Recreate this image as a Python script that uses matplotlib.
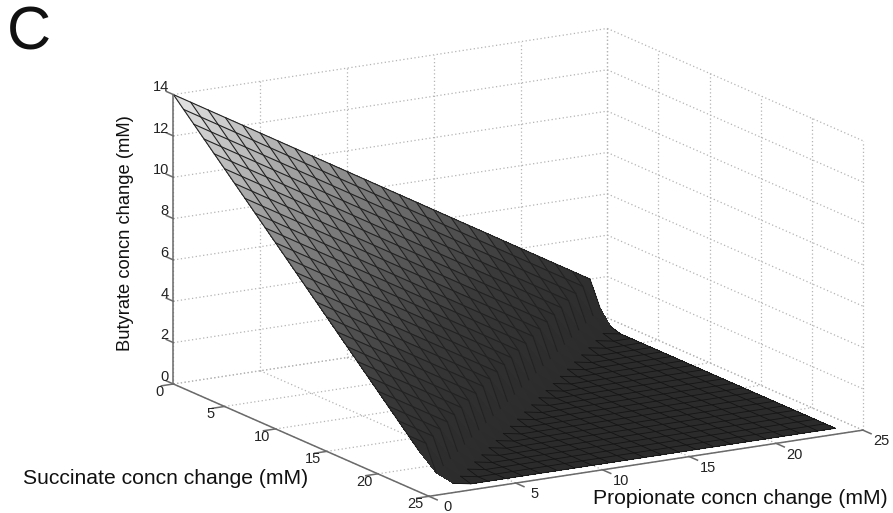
import matplotlib
matplotlib.use('Agg')
import matplotlib.pyplot as plt
import numpy as np
from matplotlib.colors import LinearSegmentedColormap
from mpl_toolkits.mplot3d import Axes3D, proj3d

plt.rcParams['font.family'] = ['Liberation Sans', 'DejaVu Sans']

# mesh positions, mM
propionate = list(range(25))
succinate = list(range(25))

# butyrate, it only depends on succinate + propionate (0..48)
butyrate_by_total = [14.0, 13.5, 13.0, 12.5, 12.0, 11.5, 11.0, 10.5, 10.0, 9.5,
                     9.0, 8.5, 8.0, 7.5, 7.0, 6.5, 6.0, 5.5, 5.0, 4.5,
                     4.0, 3.5, 3.0, 2.5, 2.0, 0.8, 0.15, 0.0, 0.0, 0.0,
                     0.0, 0.0, 0.0, 0.0, 0.0, 0.0, 0.0, 0.0, 0.0, 0.0,
                     0.0, 0.0, 0.0, 0.0, 0.0, 0.0, 0.0, 0.0, 0.0]

ticks_xy = [0, 5, 10, 15, 20, 25]
ticks_z = [0, 2, 4, 6, 8, 10, 12, 14]

fig = plt.figure(figsize=(8.93, 5.13), dpi=100)
# square axes in pixels, bigger than the figure on purpose so the box gets the right size
size = 750
ax = fig.add_axes([133 / 893, -134.5 / 513, size / 893, size / 513], projection='3d', proj_type='ortho')
ax.view_init(elev=15, azim=-120.5)
ax.set_box_aspect((1, 1, 0.595))
ax.set_xlim(0, 25, view_margin=0)
ax.set_ylim(25, 0, view_margin=0)
ax.set_zlim(0, 14, view_margin=0)
ax.set_xticks([])
ax.set_yticks([])
ax.set_zticks([])
ax.set_axis_off()
ax.patch.set_alpha(0)
ax.computed_zorder = False


def tick_label(x, y, z, txt, ha):
    # project by hand so the label is a plain 2d text
    x2, y2, _ = proj3d.proj_transform(x, y, z, ax.get_proj())
    ax.text2D(x2, y2, txt, transform=ax.transData, ha=ha, va='center', fontsize=10.5,
              color='#222222', zorder=5, clip_on=False)


grid_style = dict(color='#b4b4b4', lw=0.9, ls=(0, (1, 2)), zorder=1)
for t in ticks_xy:
    ax.plot([t, t], [0, 25], [0, 0], **grid_style)
    ax.plot([0, 25], [t, t], [0, 0], **grid_style)
    ax.plot([t, t], [0, 0], [0, 14], **grid_style)
    ax.plot([25, 25], [t, t], [0, 14], **grid_style)
for t in ticks_z:
    ax.plot([0, 25], [0, 0], [t, t], **grid_style)
    ax.plot([25, 25], [0, 25], [t, t], **grid_style)

cmap = LinearSegmentedColormap.from_list('grey_z', [(0, '#2b2b2b'), (2 / 14, '#2f2f2f'), (4 / 14, '#3a3a3a'),
                                                    (6 / 14, '#565656'), (8 / 14, '#7a7a7a'), (10 / 14, '#a0a0a0'),
                                                    (12 / 14, '#c4c4c4'), (1, '#e6e6e6')])
P, S = np.meshgrid(propionate, succinate)
Z = np.array(butyrate_by_total)[P + S]
# colour of a cell is the mean of its corners
cell_z = (Z[:-1, :-1] + Z[1:, :-1] + Z[:-1, 1:] + Z[1:, 1:]) / 4
ax.plot_surface(P, S, Z, rstride=1, cstride=1, facecolors=cmap(cell_z / 14), linewidth=0,
                shade=False, antialiased=False, zorder=2)

# mesh lines drawn by hand, the fold between totals 25 and 26 has none
for i in range(25):
    # lines along propionate
    n = 25 - i
    ax.plot(P[i, :n], S[i, :n], Z[i, :n], color='#222222', lw=0.8, zorder=3)
    ax.plot(P[i, n + 1:], S[i, n + 1:], Z[i, n + 1:], color='#151515', lw=0.6, zorder=3)
    # lines along succinate, these carry on one step down the fold
    n = 26 - i
    ax.plot(P[:n, i], S[:n, i], Z[:n, i], color='#222222', lw=0.8, zorder=3)
    ax.plot(P[n:, i], S[n:, i], Z[n:, i], color='#151515', lw=0.6, zorder=3)

# axis lines and ticks
axis_style = dict(color='#6a6a6a', lw=1.1, zorder=4)
ax.plot([0, 0], [0, 0], [0, 14], **axis_style)
ax.plot([0, 0], [0, 25], [0, 0], **axis_style)
ax.plot([0, 25], [25, 25], [0, 0], **axis_style)
for t in ticks_z:
    ax.plot([0, 0], [0, -0.7], [t, t], **axis_style)
    tick_label(0, -0.45, t + 0.25, str(t), 'right')
for t in ticks_xy:
    ax.plot([0, -0.7], [t, t], [0, 0], **axis_style)
    tick_label(-0.8, t, -0.28, str(t), 'center')
    ax.plot([t, t], [25, 25.8], [0, 0], **axis_style)
    tick_label(t, 26.8, -0.15, str(t), 'center')

fig.text(7 / 893, 1 - 49 / 513, 'C', fontsize=44, color='#111111', ha='left', va='baseline')
fig.text(125 / 893, 1 - 233 / 513, 'Butyrate concn change (mM)', rotation=90, fontsize=13.2,
         color='#111111', ha='center', va='center')
fig.text(166 / 893, 1 - 478 / 513, 'Succinate concn change (mM)', fontsize=15.2,
         color='#111111', ha='center', va='center')
fig.text(740 / 893, 1 - 498 / 513, 'Propionate concn change (mM)', fontsize=15.2,
         color='#111111', ha='center', va='center')

fig.savefig('out.png', dpi=100)
